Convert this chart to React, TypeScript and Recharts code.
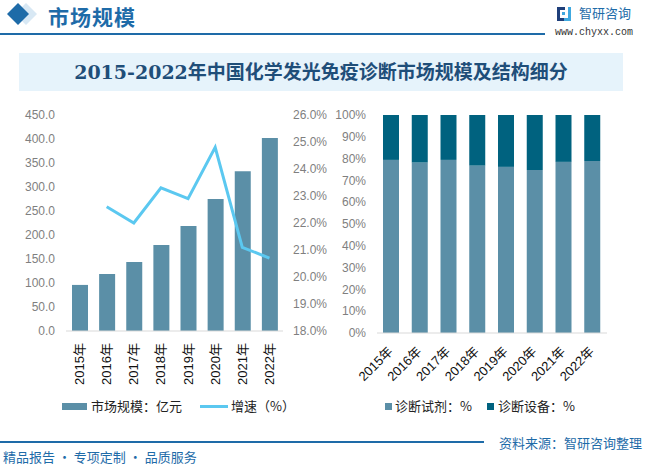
import React from 'react';
import { ComposedChart, BarChart, Bar, Line, XAxis, YAxis } from 'recharts';

const years = ['2015年', '2016年', '2017年', '2018年', '2019年', '2020年', '2021年', '2022年'];
const marketSize = [96, 119, 144, 179, 219, 275, 333, 402];
const growthRate: (number | null)[] = [null, 22.6, 22.0, 23.3, 22.9, 24.8, 21.1, 20.7];
const reagentShare = [79.4, 78.2, 79.4, 76.8, 76.2, 74.8, 78.5, 78.9];
const equipmentShare = [20.6, 21.8, 20.6, 23.2, 23.8, 25.2, 21.5, 21.1];
const sizeTicks = [0, 50, 100, 150, 200, 250, 300, 350, 400, 450];
const growthTicks = [18, 19, 20, 21, 22, 23, 24, 25, 26];
const shareTicks = [0, 10, 20, 30, 40, 50, 60, 70, 80, 90, 100];

const FONT = '"Liberation Sans", "Noto Sans CJK SC", sans-serif';
const CJK = '"Noto Sans CJK SC", sans-serif';
const BLUE = '#1e6ba8';
const BAR = '#5b8fa7';
const DARK = '#00627f';
const LINE = '#5bc8f0';
const GREY = '#7f7f7f';

const leftData = years.map((y, i) => ({ year: y, size: marketSize[i], growth: growthRate[i] }));
const rightData = years.map((y, i) => ({ year: y, reagent: reagentShare[i], equipment: equipmentShare[i] }));

const VertTick = (props: any) => {
  const { x, y, payload } = props;
  return (
    <text x={x} y={y} dy="0.35em" textAnchor="end" transform={`rotate(-90, ${x}, ${y})`}
      fontSize={13} fill="#111" fontFamily={FONT}>{payload.value}</text>
  );
};

const DiagTick = (props: any) => {
  const { x, y, payload } = props;
  const ax = x - 1;
  return (
    <text x={ax} y={y} dy="0.35em" textAnchor="end" transform={`rotate(-45, ${ax}, ${y})`}
      fontSize={13} fill="#111" fontFamily={FONT}>{payload.value}</text>
  );
};

const abs = (l: number, t: number, extra: any = {}) => ({ position: 'absolute' as const, left: l, top: t, ...extra });

export default function App() {
  return (
    <div style={{ position: 'absolute', left: 0, top: 0, width: 650, height: 466, background: '#fff', overflow: 'hidden', fontFamily: CJK }}>
      <svg width={650} height={466} style={abs(0, 0)}>
        <polygon points="26,3 37,14 26,25 15,14" fill="#d8e8f4" />
        <polygon points="18,3 29,14 18,25 7,14" fill={BLUE} />
        <text x={48} y={25} fontSize={21} letterSpacing={1} fontWeight={700} fill={BLUE} fontFamily={CJK}>市场规模</text>
        <rect x={0} y={33} width={545} height={2} fill={BLUE} />
        <rect x={19} y={53} width={604} height={38} fill="#e6f3fb" />
        <rect x={0} y={441} width={484} height={2} fill={BLUE} />
        <rect x={557} y={7} width={8} height={3} fill="#1f3f7a" />
        <rect x={557} y={7} width={3} height={14} fill="#1f3f7a" />
        <rect x={557} y={18} width={8} height={3} fill="#1f3f7a" />
        <rect x={562} y={12} width={3} height={3} fill="#3fa9e0" />
        <rect x={568} y={7} width={3} height={11} fill="#3fa9e0" />
        <rect x={564} y={18} width={7} height={3} fill="#3fa9e0" />
      </svg>
      <div style={abs(579, 5, { fontSize: 13, color: BLUE, lineHeight: '16px', whiteSpace: 'nowrap' })}>智研咨询</div>
      <div style={abs(555, 27, { fontSize: 10, color: '#333', fontFamily: '"Liberation Mono", monospace', lineHeight: '12px', whiteSpace: 'nowrap' })}>www.chyxx.com</div>
      <div style={abs(19, 53, { width: 604, height: 38, lineHeight: '38px', textAlign: 'center', fontSize: 19, fontWeight: 700, color: '#1f4e79', fontFamily: '"DejaVu Serif", "Noto Sans CJK SC", serif', whiteSpace: 'nowrap' })}>2015-2022年中国化学发光免疫诊断市场规模及结构细分</div>
      <div style={abs(3, 449, { fontSize: 13, color: BLUE, lineHeight: '16px', whiteSpace: 'nowrap' })}>精品报告 · 专项定制 · 品质服务</div>
      <div style={abs(499, 435, { fontSize: 13, color: BLUE, lineHeight: '16px', whiteSpace: 'nowrap' })}>资料来源：智研咨询整理</div>

      <div style={abs(0, 100)}>
        <ComposedChart width={330} height={320} data={leftData} margin={{ top: 15, right: 0, left: 0, bottom: 29 }} style={{ fontFamily: FONT }}>
          <XAxis dataKey="year" height={60} interval={0} tickLine={false} tickSize={0} tickMargin={12}
            axisLine={{ stroke: '#d9d9d9' }} tick={<VertTick />} />
          <YAxis yAxisId="left" width={66} domain={[0, 450]} ticks={sizeTicks} tickFormatter={(v: number) => v.toFixed(1)}
            axisLine={false} tickLine={false} tickSize={0} tickMargin={11} tick={{ fill: GREY, fontSize: 12 }} />
          <YAxis yAxisId="right" orientation="right" width={47} domain={[18, 26]} ticks={growthTicks}
            tickFormatter={(v: number) => v.toFixed(1) + '%'} axisLine={false} tickLine={false} tickSize={0} tickMargin={10}
            tick={{ fill: GREY, fontSize: 12, textAnchor: 'start' }} />
          <Bar yAxisId="left" dataKey="size" fill={BAR} barSize={16} isAnimationActive={false} />
          <Line yAxisId="right" dataKey="growth" stroke={LINE} strokeWidth={3} dot={false} type="linear" isAnimationActive={false} />
        </ComposedChart>
      </div>

      <div style={abs(330, 100)}>
        <BarChart width={320} height={320} data={rightData} margin={{ top: 15, right: 43, left: 0, bottom: 27 }} style={{ fontFamily: FONT }}>
          <XAxis dataKey="year" height={60} interval={0} tickLine={false} tickSize={0} tickMargin={16}
            axisLine={{ stroke: '#d9d9d9' }} tick={<DiagTick />} />
          <YAxis width={47} domain={[0, 100]} ticks={shareTicks} tickFormatter={(v: number) => v + '%'}
            axisLine={false} tickLine={false} tickSize={0} tickMargin={11} tick={{ fill: GREY, fontSize: 12 }} />
          <Bar dataKey="reagent" stackId="a" fill={BAR} barSize={16} isAnimationActive={false} />
          <Bar dataKey="equipment" stackId="a" fill={DARK} barSize={16} isAnimationActive={false} />
        </BarChart>
      </div>

      <div style={abs(62, 403, { width: 25, height: 7, background: BAR })} />
      <div style={abs(91, 398, { fontSize: 13, color: '#222', lineHeight: '16px', whiteSpace: 'nowrap' })}>市场规模：亿元</div>
      <div style={abs(200, 405, { width: 28, height: 3, background: LINE })} />
      <div style={abs(231, 398, { fontSize: 13, color: '#222', lineHeight: '16px', whiteSpace: 'nowrap' })}>增速（%）</div>
      <div style={abs(385, 403, { width: 7, height: 7, background: BAR })} />
      <div style={abs(395, 398, { fontSize: 13, color: '#222', lineHeight: '16px', whiteSpace: 'nowrap' })}>诊断试剂：%</div>
      <div style={abs(487, 403, { width: 7, height: 7, background: DARK })} />
      <div style={abs(498, 398, { fontSize: 13, color: '#222', lineHeight: '16px', whiteSpace: 'nowrap' })}>诊断设备：%</div>
    </div>
  );
}
